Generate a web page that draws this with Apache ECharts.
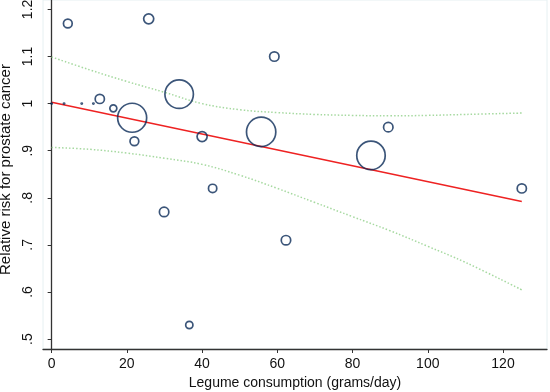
<!DOCTYPE html>
<html>
<head>
<meta charset="utf-8">
<script src="https://cdn.jsdelivr.net/npm/echarts@6/dist/echarts.min.js"></script>
<style>
    html, body { margin: 0; padding: 0; background: #fff; }
    #chart { width: 550px; height: 392px; }
</style>
</head>
<body>
<div id="chart"></div>
<script>
    // study points: legume intake (g/day), relative risk, relative weight
    const studyX = [4.3, 25.8, 12.8, 16.4, 21.4, 22.0, 33.9, 40.0, 55.7, 59.2, 42.8, 84.9, 89.5, 125.0, 29.9, 36.6, 62.3, 0, 3.3, 8.0, 11.1]
    const studyRR = [1.17, 1.18, 1.01, 0.99, 0.97, 0.92, 1.02, 0.93, 0.94, 1.10, 0.82, 0.89, 0.95, 0.82, 0.77, 0.53, 0.71, 1.00, 1.00, 1.00, 1.00]
    const studyWeight = [0.95, 1.25, 1.05, 0.6, 10.4, 0.95, 10.0, 1.25, 10.6, 1.1, 0.85, 10.0, 1.1, 1.05, 1.1, 0.65, 1.1, 0.02, 0.02, 0.02, 0.02]

    // fitted meta-regression line
    const fitX = [0, 125]
    const fitY = [1.003, 0.792]

    // 95% confidence band
    const bandX = [0, 10, 20, 30, 40, 50, 60, 70, 80, 90, 100, 110, 125]
    const bandUpper = [1.099, 1.072, 1.047, 1.024, 1.000, 0.987, 0.981, 0.977, 0.975, 0.974, 0.975, 0.977, 0.980]
    const bandLower = [0.907, 0.903, 0.895, 0.884, 0.871, 0.848, 0.820, 0.790, 0.760, 0.730, 0.697, 0.663, 0.6045]

    // tick labels
    const xTicks = [0, 20, 40, 60, 80, 100, 120]
    const yTicks = [0.5, 0.6, 0.7, 0.8, 0.9, 1.0, 1.1, 1.2]
    const yTickLabels = ['.5', '.6', '.7', '.8', '.9', '1', '1.1', '1.2']

    const font = 'Liberation Sans, Arial, sans-serif'

    let points = []
    for (let i = 0; i < studyX.length; i++) {
        points.push([studyX[i], studyRR[i], studyWeight[i]])
    }
    let fitLine = fitX.map((x, i) => [x, fitY[i]])
    let upperLine = bandX.map((x, i) => [x, bandUpper[i]])
    let lowerLine = bandX.map((x, i) => [x, bandLower[i]])

    let option = {
        animation: false,
        grid: {
            left: 43,
            right: 3,
            top: 0,
            bottom: 43,
            outerBoundsMode: 'none',
            containLabel: false,
            show: true,
            borderColor: '#e6f0f2',
            borderWidth: 1
        },
        xAxis: {
            type: 'value',
            min: -2.3,
            max: 131.7,
            name: 'Legume consumption (grams/day)',
            nameLocation: 'middle',
            nameGap: 27,
            nameTextStyle: { fontFamily: font, fontSize: 14, color: '#111' },
            axisLine: { show: true, lineStyle: { color: '#333', width: 1.3 } },
            axisTick: { show: true, length: 4, customValues: xTicks, lineStyle: { color: '#333' } },
            axisLabel: { customValues: xTicks, margin: 8, fontFamily: font, fontSize: 14, color: '#111' },
            splitLine: { show: false }
        },
        yAxis: {
            type: 'value',
            min: 0.479,
            max: 1.22,
            name: 'Relative risk for prostate cancer',
            nameLocation: 'middle',
            nameGap: 26,
            nameTextStyle: { fontFamily: font, fontSize: 15, color: '#111', padding: [0, 0, 0, 10] },
            axisLine: { show: true, lineStyle: { color: '#333', width: 1.3 } },
            axisTick: { show: true, length: 4, customValues: yTicks, lineStyle: { color: '#333' } },
            axisLabel: {
                customValues: yTicks,
                rotate: 90,
                margin: 8,
                fontFamily: font,
                fontSize: 14,
                color: '#111',
                formatter: function (value) {
                    let idx = yTicks.findIndex(t => Math.abs(t - value) < 1e-6)
                    return idx >= 0 ? yTickLabels[idx] : ''
                }
            },
            splitLine: { show: false }
        },
        series: [
            {
                name: 'upper',
                type: 'line',
                data: upperLine,
                smooth: 0.4,
                showSymbol: false,
                lineStyle: { color: '#a6d9a0', width: 1.5, type: [1.5, 2] },
                z: 1
            },
            {
                name: 'lower',
                type: 'line',
                data: lowerLine,
                smooth: 0.4,
                showSymbol: false,
                lineStyle: { color: '#a6d9a0', width: 1.5, type: [1.5, 2] },
                z: 1
            },
            {
                name: 'fit',
                type: 'line',
                data: fitLine,
                showSymbol: false,
                lineStyle: { color: '#ee2222', width: 1.5 },
                z: 2
            },
            {
                name: 'studies',
                type: 'scatter',
                data: points,
                symbol: 'circle',
                symbolSize: function (d) {
                    return 9 * Math.sqrt(d[2])
                },
                itemStyle: {
                    color: 'rgba(255,255,255,0)',
                    borderColor: '#0a2a58',
                    borderWidth: 1.7
                },
                emphasis: { disabled: true },
                z: 3
            }
        ]
    }

    let myChart = echarts.init(document.getElementById('chart'))
    myChart.setOption(option)
</script>
</body>
</html>
